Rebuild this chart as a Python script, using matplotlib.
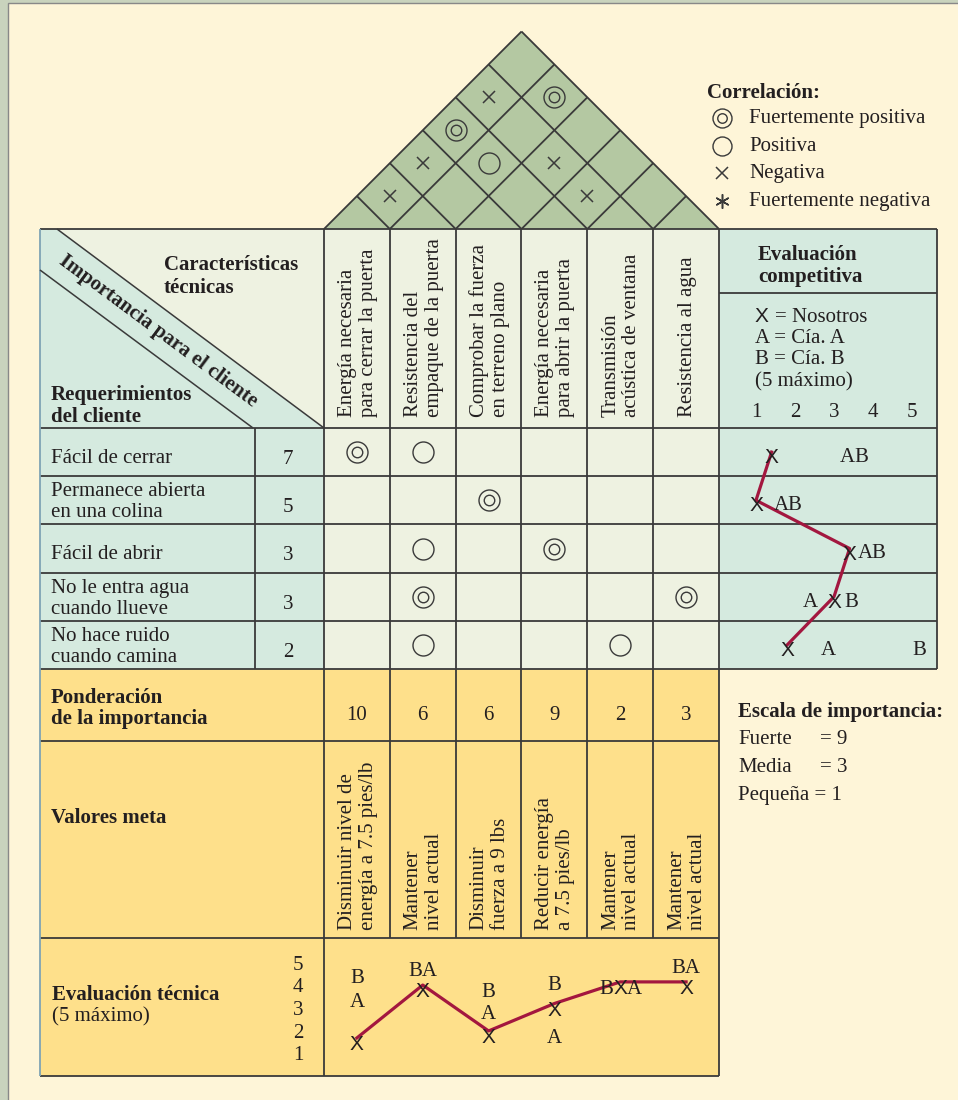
import matplotlib
matplotlib.use("Agg")
import matplotlib.pyplot as plt
from matplotlib.patches import Polygon, Rectangle

# ---------------- data ----------------
requirements = ["Fácil de cerrar", "Permanece abierta\nen una colina", "Fácil de abrir",
                "No le entra agua\ncuando llueve", "No hace ruido\ncuando camina"]
importance = [7, 5, 3, 3, 2]
characteristics = ["Energía necesaria\npara cerrar la puerta",
                   "Resistencia del\nempaque de la puerta",
                   "Comprobar la fuerza\nen terreno plano",
                   "Energía necesaria\npara abrir la puerta",
                   "Transmisión\nacústica de ventana",
                   "Resistencia al agua"]
# 9 = fuerte (double circle), 3 = media (circle), 0 = none
relationships = [[9, 3, 0, 0, 0, 0],
                 [0, 0, 9, 0, 0, 0],
                 [0, 3, 0, 9, 0, 0],
                 [0, 9, 0, 0, 0, 9],
                 [0, 3, 0, 0, 3, 0]]
correlation_pairs = [(0, 1), (0, 2), (0, 3), (0, 4), (1, 3), (1, 5), (2, 4), (3, 4)]
correlation_types = ["-", "-", "++", "-", "+", "++", "-", "-"]
weights = [10, 6, 6, 9, 2, 3]
target_values = ["Disminuir nivel de\nenergía a 7.5 pies/lb", "Mantener\nnivel actual",
                 "Disminuir\nfuerza a 9 lbs", "Reducir energía\na 7.5 pies/lb",
                 "Mantener\nnivel actual", "Mantener\nnivel actual"]
comp_us = [1.4, 1.0, 3.4, 3.0, 1.8]
comp_a = [3.35, 1.65, 3.8, 2.4, 2.85]
comp_b = [3.7, 1.97, 4.13, 3.44, 5.2]
tech_us = [1.67, 4.02, 1.98, 3.2, 4.16, 4.16]
tech_a = [3.58, 4.96, 3.04, 1.98, 4.16, 5.09]
tech_b = [4.64, 4.96, 4.02, 4.33, 4.16, 5.09]
scale_ticks = [1, 2, 3, 4, 5]
scale_labels = ["1", "2", "3", "4", "5"]
corr_legend = [("++", "Fuertemente positiva"), ("+", "Positiva"),
               ("-", "Negativa"), ("--", "Fuertemente negativa")]
importance_scale = [("Fuerte", "= 9"), ("Media", "= 3"), ("Pequeña", "= 1")]

# ---------------- style ----------------
SERIF = "Liberation Serif"
SANS = "Liberation Sans"
FS = 15
CREAM = "#FEF5D8"
MINT = "#D5EADF"
PALE = "#EEF2E1"
YELLOW = "#FEE08B"
ROOF = "#B4C8A2"
LINE = "#3A3A3A"
RED = "#A3173F"
TXT = "#231F20"
LW = 1.3

W, H = 958, 1100
fig = plt.figure(figsize=(W / 100, H / 100), dpi=100)
fig.patch.set_facecolor("#C9D3BD")
ax = fig.add_axes([0, 0, 1, 1])
ax.set_xlim(0, W)
ax.set_ylim(H, 0)
ax.axis("off")

# layout (pixels)
X0, XN, XM, XR, XE = 40, 255, 324, 719, 937
YT, YH, YB = 229, 428, 669
YP, YV, YE = 741, 938, 1076
ncol = len(characteristics)
nrow = len(requirements)
cw = (XR - XM) / ncol
rh = (YB - YH) / nrow
row_top = [YH + r * rh for r in range(nrow)]
col_c = [XM + cw * (i + 0.5) for i in range(ncol)]

ax.add_patch(Rectangle((8, 3), 960, 1110, facecolor=CREAM, edgecolor="#888888", lw=1, zorder=0))

def poly(pts, fc, z=1):
    ax.add_patch(Polygon(pts, closed=True, facecolor=fc, edgecolor="none", zorder=z))

# fills
poly([(X0, YT), (XM, YT), (XM, YH), (X0, YH)], PALE)
poly([(X0, YT), (57, YT), (XM, YH), (X0, YH)], MINT)
poly([(X0, YH), (XM, YH), (XM, YB), (X0, YB)], MINT)
poly([(XM, YT), (XR, YT), (XR, YB), (XM, YB)], PALE)
poly([(XR, YT), (XE, YT), (XE, YB), (XR, YB)], MINT)
poly([(X0, YB), (XR, YB), (XR, YE), (X0, YE)], YELLOW)
apex = ((XM + XR) / 2, YT - (XR - XM) / 2)
poly([(XM, YT), apex, (XR, YT)], ROOF)

def line(xs, ys, c=LINE, lw=LW, z=3):
    ax.plot(xs, ys, color=c, lw=lw, zorder=z, solid_capstyle="butt")

# roof grid
for k in range(ncol + 1):
    xk = XM + k * cw
    t = (XR - xk) / 2
    line([xk, xk + t], [YT, YT - t])
    t = (xk - XM) / 2
    line([xk, xk - t], [YT, YT - t])

# grid lines
line([X0, XE], [YT, YT])
line([X0, XE], [YH, YH])
for r in range(1, nrow):
    line([X0, XE], [row_top[r], row_top[r]])
line([X0, XE], [YB, YB])
line([X0, XR], [YP, YP])
line([X0, XR], [YV, YV])
line([X0, XR], [YE, YE])
line([XR, XE], [293, 293])
line([X0, X0], [YT, YE], c="#7FA4B4")
line([XN, XN], [YH, YB])
line([XM, XM], [YT, YE])
for k in range(1, ncol):
    line([XM + k * cw] * 2, [YT, YV])
line([XR, XR], [YT, YE])
line([XE, XE], [YT, YB])
line([57, XM], [YT, YH], lw=1.1)
line([X0, XN - 2], [270, YH], lw=1.1)

# symbols
def symbol(x, y, kind, d=21, z=6):
    if kind == "++":
        ax.plot(x, y, "o", ms=d / 1.389, mfc="none", mec=LINE, mew=1.0, zorder=z)
        ax.plot(x, y, "o", ms=d / 2 / 1.389, mfc="none", mec=LINE, mew=1.0, zorder=z)
    elif kind == "+":
        ax.plot(x, y, "o", ms=d / 1.389, mfc="none", mec=LINE, mew=1.0, zorder=z)
    elif kind == "-":
        ax.plot(x, y, "x", ms=d * 0.6 / 1.389, mec=LINE, mew=1.1, zorder=z)
    elif kind == "--":
        ax.plot(x, y, marker=(6, 2, 0), ms=d * 0.75 / 1.389, mec=LINE, mew=1.1, zorder=z)

for (i, j), kind in zip(correlation_pairs, correlation_types):
    symbol(XM + cw * (i + j + 1) / 2, YT - cw * (j - i) / 2, kind)

for r in range(nrow):
    for c in range(ncol):
        v = relationships[r][c]
        if v:
            symbol(col_c[c], row_top[r] + rh / 2, "++" if v == 9 else "+")

def txt(x, y, s, fs=FS, bold=False, fam=SERIF, **kw):
    kw.setdefault("va", "baseline")
    ax.text(x, y, s, fontsize=fs, fontfamily=fam, fontweight="bold" if bold else "normal",
            color=TXT, zorder=8, **kw)

# correlation legend
txt(707, 98, "Correlación:", bold=True)
for k, (kind, lab) in enumerate(corr_legend):
    yb = 123 + k * 27.7
    symbol(722, yb - 5, kind, d=19)
    txt(749, yb, lab)

# left header
txt(164, 270, "Características", bold=True)
txt(164, 293, "técnicas", bold=True)
txt(51, 400, "Requerimientos", bold=True)
txt(51, 422, "del cliente", bold=True)
txt(158, 331, "Importancia para el cliente", bold=True, va="center", ha="center",
    rotation=-36.6, rotation_mode="anchor")

# rotated column texts
def rot_lines(xc, yb, text):
    parts = text.split("\n")
    n = len(parts)
    for k, p in enumerate(parts):
        bx = xc + 5.5 + (k - (n - 1) / 2) * 21
        txt(bx, yb, p, rotation=90, rotation_mode="anchor", ha="left")

for i in range(ncol):
    rot_lines(col_c[i], 417, characteristics[i])
    rot_lines(col_c[i], 930, target_values[i])
    txt(col_c[i], 720, str(weights[i]), ha="center")

# requirements rows
for r in range(nrow):
    parts = requirements[r].split("\n")
    if len(parts) == 1:
        txt(51, row_top[r] + 35, parts[0])
    else:
        txt(51, row_top[r] + 20, parts[0])
        txt(51, row_top[r] + 41, parts[1])
    txt(288, row_top[r] + 36, str(importance[r]), ha="center")

# bottom left labels
txt(51, 703, "Ponderación", bold=True)
txt(51, 724, "de la importancia", bold=True)
txt(51, 823, "Valores meta", bold=True)
txt(52, 1000, "Evaluación técnica", bold=True)
txt(52, 1021, "(5 máximo)")

# competitive header
txt(758, 260, "Evaluación", bold=True)
txt(758, 282, "competitiva", bold=True)
txt(755, 322, "X", fam=SANS)
txt(775, 322, "= Nosotros")
txt(755, 343, "A = Cía. A")
txt(755, 364, "B = Cía. B")
txt(755, 386, "(5 máximo)")

# importance scale
txt(738, 717, "Escala de importancia:", bold=True)
for k, (a, b) in enumerate(importance_scale):
    yb = 744 + k * 28
    if a == "Pequeña":
        txt(738, yb, a + " " + b)
    else:
        txt(738, yb, a)
        txt(820, yb, b)

# ---------- competitive evaluation axes ----------
axc = fig.add_axes([XR / W, 1 - YB / H, (XE - XR) / W, (YB - YH) / H])
axc.set_xlim((XR - 717) / 39, (XE - 717) / 39)
axc.set_ylim(nrow - 0.5, -0.5)
axc.patch.set_alpha(0)
for s in axc.spines.values():
    s.set_visible(False)
axc.set_yticks([])
axc.xaxis.set_ticks_position("top")
axc.set_xticks(scale_ticks)
axc.set_xticklabels(scale_labels, fontfamily=SERIF, fontsize=FS, color=TXT)
axc.tick_params(axis="x", length=0, pad=4)
rows = list(range(nrow))
axc.plot(comp_us, rows, color=RED, lw=2.3, zorder=3)

def lab(a, x, y, s, fam=SERIF, dy=12, dx=0, ha="center"):
    # dy: pixels below the data point for the text baseline
    a.annotate(s, xy=(x, y), xytext=(dx, -dy), textcoords="offset pixels", ha=ha,
               va="baseline", fontsize=FS, fontfamily=fam, color=TXT, zorder=6,
               annotation_clip=False)

for r in rows:
    lab(axc, comp_us[r], r, "X", fam=SANS, dy=11)
    lab(axc, comp_a[r], r, "A", dy=10)
    lab(axc, comp_b[r], r, "B", dy=10)

# ---------- technical evaluation axes ----------
axt = fig.add_axes([XM / W, 1 - YE / H, (XR - XM) / W, (YE - YV) / H])
axt.set_xlim(-0.5, ncol - 0.5)
axt.set_ylim((1075.5 - YE) / 22.5, (1075.5 - YV) / 22.5)
axt.patch.set_alpha(0)
for s in axt.spines.values():
    s.set_visible(False)
axt.set_xticks([])
axt.set_yticks(scale_ticks)
axt.set_yticklabels(scale_labels, fontfamily=SERIF, fontsize=FS, color=TXT)
axt.tick_params(axis="y", length=0, pad=15)
cols = list(range(ncol))
axt.plot(cols, tech_us, color=RED, lw=2.3, zorder=3)
for c in cols:
    lab(axt, c, tech_us[c], "X", fam=SANS, dy=12)
    if tech_a[c] == tech_b[c] == tech_us[c]:
        lab(axt, c, tech_b[c], "B", dy=12, dx=-7, ha="right")
        lab(axt, c, tech_a[c], "A", dy=12, dx=7, ha="left")
    elif tech_a[c] == tech_b[c]:
        lab(axt, c, tech_a[c], "BA", dy=12)
    else:
        lab(axt, c, tech_a[c], "A", dy=12)
        lab(axt, c, tech_b[c], "B", dy=12)

fig.savefig("out.png", dpi=100, facecolor=fig.get_facecolor())
